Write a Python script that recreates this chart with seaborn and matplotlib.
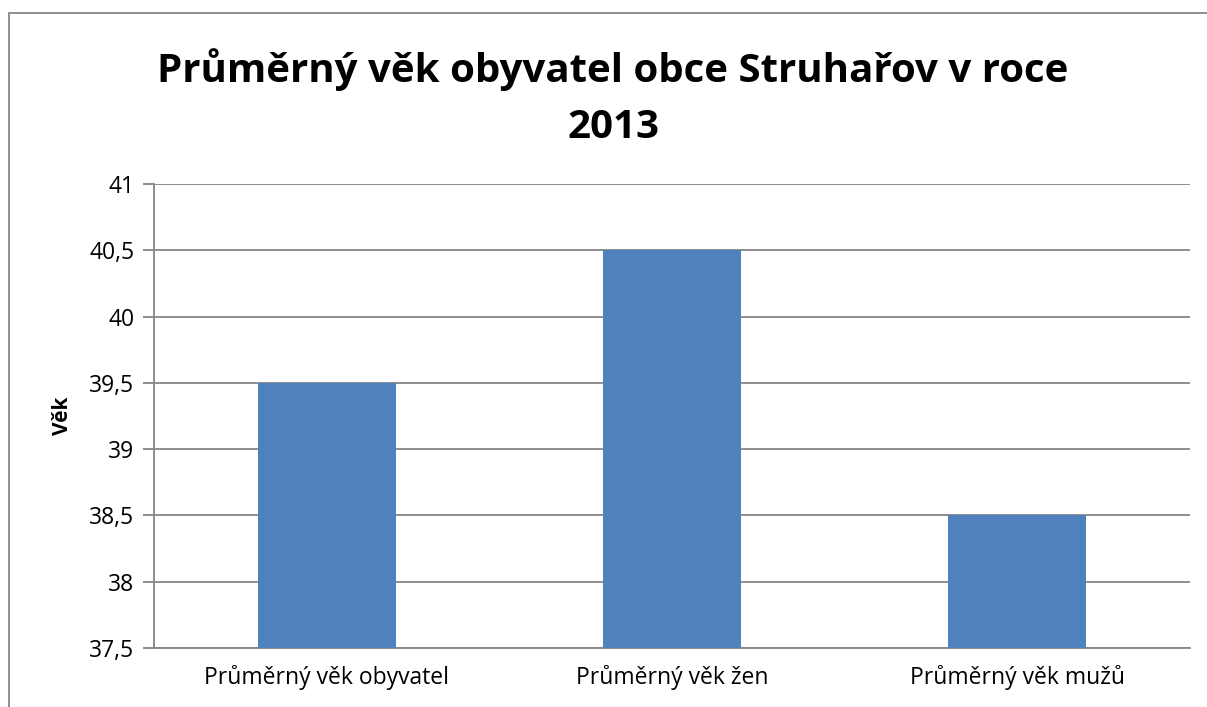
import matplotlib
matplotlib.use('Agg')
import matplotlib.pyplot as plt
import matplotlib.ticker as mticker
import seaborn as sns
import pandas as pd

# data
categories = ['Průměrný věk obyvatel', 'Průměrný věk žen', 'Průměrný věk mužů']
ages = [39.5, 40.5, 38.5]

sns.set_style('white')
plt.rcParams['font.family'] = ['Open Sans', 'DejaVu Sans']
plt.rcParams['text.color'] = 'black'
plt.rcParams['xtick.color'] = 'black'
plt.rcParams['ytick.color'] = 'black'
plt.rcParams['axes.labelcolor'] = 'black'

W, H = 1207, 707
fig = plt.figure(figsize=(W / 100, H / 100), dpi=100)
ax = fig.add_axes([154 / W, 1 - 648 / H, (1190 - 154) / W, (648 - 184) / H])

df = pd.DataFrame({'kategorie': categories, 'vek': ages})
sns.barplot(data=df, x='kategorie', y='vek', color='#4F81BD', saturation=1,
            width=0.4, ax=ax, zorder=3, edgecolor='none', linewidth=0)

ax.set_ylim(37.5, 41)
ax.yaxis.set_major_locator(mticker.MultipleLocator(0.5))
ax.yaxis.set_major_formatter(mticker.FuncFormatter(
    lambda v, p: f'{v:g}'.replace('.', ',')))
ax.grid(axis='y', color='#868686', linewidth=1.3, zorder=0)
ax.set_axisbelow(True)

for s in ['top', 'right']:
    ax.spines[s].set_visible(False)
for s in ['left', 'bottom']:
    ax.spines[s].set_color('#868686')
    ax.spines[s].set_linewidth(1.3)

ax.tick_params(axis='y', left=True, length=8, color='#868686', width=1.3,
               labelsize=16.5, pad=6)
ax.tick_params(axis='x', bottom=False, length=0, labelsize=16.5, pad=12)
ax.set_xlabel('')
ax.set_ylabel('Věk', fontsize=15, fontweight='bold', labelpad=12)

fig.text(0.508, 0.862, 'Průměrný věk obyvatel obce Struhařov v roce\n2013',
         ha='center', va='center', fontsize=29, fontweight='bold',
         linespacing=1.55)

# chart border
border = plt.Rectangle((9 / W, -0.05), 1.05, 1 - 13 / H + 0.05,
                       transform=fig.transFigure, fill=False,
                       edgecolor='#868686', linewidth=1.3)
fig.patches.append(border)

fig.savefig('out.png', dpi=100)
